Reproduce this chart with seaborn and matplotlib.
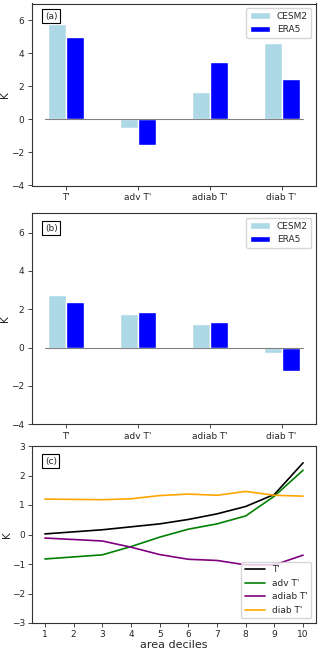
import numpy as np
import pandas as pd
import matplotlib
matplotlib.use("Agg")
import matplotlib.pyplot as plt
import seaborn as sns

sns.set_style("ticks")
plt.rcParams['font.family'] = ['DejaVu Sans']

# du lieu doc tu hinh
terms = ["T'", "adv T'", "adiab T'", "diab T'"]
models = ["CESM2", "ERA5"]
cesm2_a = [5.74, -0.54, 1.68, 4.59]
era5_a = [4.96, -1.54, 3.44, 2.46]
cesm2_b = [2.75, 1.73, 1.24, -0.30]
era5_b = [2.38, 1.88, 1.34, -1.22]

deciles = [1, 2, 3, 4, 5, 6, 7, 8, 9, 10]
t_prime = [0.02, 0.09, 0.16, 0.26, 0.36, 0.51, 0.70, 0.95, 1.36, 2.43]
adv_t = [-0.83, -0.76, -0.69, -0.41, -0.09, 0.18, 0.36, 0.63, 1.30, 2.18]
adiab_t = [-0.12, -0.17, -0.22, -0.43, -0.68, -0.84, -0.88, -1.03, -1.03, -0.70]
diab_t = [1.20, 1.19, 1.18, 1.21, 1.32, 1.37, 1.33, 1.46, 1.33, 1.30]

W, H = 320, 651
fig = plt.figure(figsize=(W / 100, H / 100), dpi=100)


def box(top, bottom, left=32, right=316):
    return [left / W, 1 - bottom / H, (right - left) / W, (bottom - top) / H]


def bar_panel(ax, cesm, era, tag):
    df = pd.DataFrame({
        "term": terms * 2,
        "model": [models[0]] * 4 + [models[1]] * 4,
        "val": cesm + era,
    })
    sns.barplot(data=df, x="term", y="val", hue="model", ax=ax,
                palette=["lightblue", "blue"], width=0.5, saturation=1,
                errorbar=None)
    ax.plot([-0.3, 3.3], [0, 0], color="gray", lw=0.8)
    ax.set_xlim(-0.48, 3.48)
    ax.set_ylim(-4, 7)
    ax.set_yticks([-4, -2, 0, 2, 4, 6])
    ax.set_xlabel("")
    ax.set_ylabel("K", fontsize=7.5, labelpad=1)
    ax.tick_params(labelsize=6.5, length=3, width=0.6, pad=2.5)
    ax.legend(loc="upper right", fontsize=6.5, handlelength=2.2,
              framealpha=0.8, edgecolor="#cccccc")
    ax.text(0.045, 0.93, tag, transform=ax.transAxes, fontsize=6.5,
            va="center", ha="left",
            bbox=dict(boxstyle="square,pad=0.3", fc="white", ec="black", lw=0.8))


ax1 = fig.add_axes(box(3.5, 185.5))
bar_panel(ax1, cesm2_a, era5_a, "(a)")

ax2 = fig.add_axes(box(213.5, 424.3))
bar_panel(ax2, cesm2_b, era5_b, "(b)")

ax3 = fig.add_axes(box(446, 623))
lines = [("T'", t_prime, "black"), ("adv T'", adv_t, "green"),
         ("adiab T'", adiab_t, "purple"), ("diab T'", diab_t, "orange")]
for name, vals, col in lines:
    sns.lineplot(x=deciles, y=vals, ax=ax3, color=col, lw=1.2, label=name)
ax3.set_ylim(-3, 3)
ax3.set_xlim(0.55, 10.45)
ax3.set_xticks(deciles)
ax3.set_ylabel("K", fontsize=7.5, labelpad=0)
ax3.set_xlabel("area deciles", fontsize=8, labelpad=1)
ax3.tick_params(labelsize=6.5, length=3, width=0.6, pad=2)
ax3.legend(loc="lower right", fontsize=6.5, handlelength=2.2,
           framealpha=0.8, edgecolor="#cccccc")
ax3.text(0.045, 0.915, "(c)", transform=ax3.transAxes, fontsize=6.5,
         va="center", ha="left",
         bbox=dict(boxstyle="square,pad=0.3", fc="white", ec="black", lw=0.8))

for ax in (ax1, ax2, ax3):
    for s in ax.spines.values():
        s.set_linewidth(0.8)
        s.set_color("#333333")

fig.savefig("out.png", dpi=100)
